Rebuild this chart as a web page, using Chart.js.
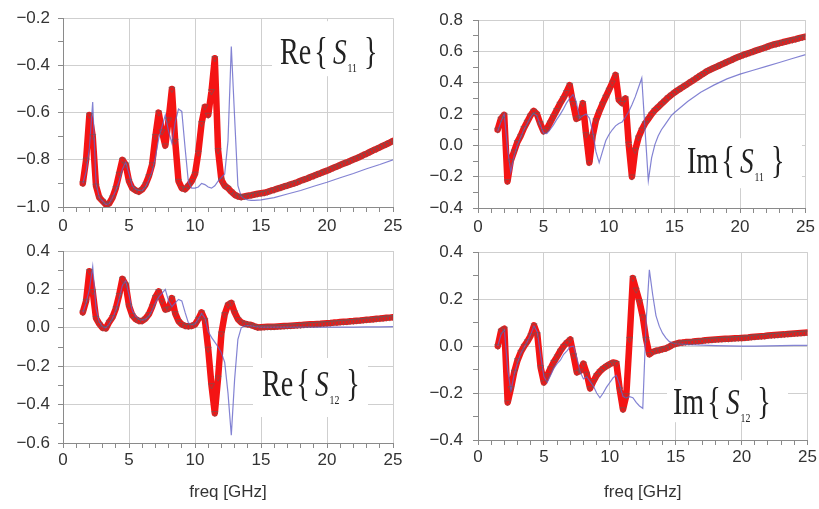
<!DOCTYPE html>
<html>
<head>
<meta charset="utf-8">
<script src="https://cdn.jsdelivr.net/npm/chart.js@4.4.0/dist/chart.umd.min.js"></script>
<style>
  body { margin: 0; background: #fff; }
  #wrap { position: relative; width: 819px; height: 509px; overflow: hidden; }
  #wrap canvas { position: absolute; }
</style>
</head>
<body>
<div id="wrap">
  <canvas id="reS11" width="410" height="232" style="left:0;top:0"></canvas>
  <canvas id="imS11" width="409" height="232" style="left:410px;top:0"></canvas>
  <canvas id="reS12" width="410" height="277" style="left:0;top:232px"></canvas>
  <canvas id="imS12" width="409" height="277" style="left:410px;top:232px"></canvas>
</div>
<script>
// frequency grid of the fitted / measured points (GHz)
const freq = [1.5,1.75,2,2.25,2.5,2.75,3,3.25,3.5,3.75,4,4.25,4.5,4.75,5,5.25,5.5,5.75,6,6.25,
  6.5,6.75,7,7.25,7.5,7.75,8,8.25,8.5,8.75,9,9.25,9.5,9.75,10,10.25,10.5,10.75,11,11.25,
  11.5,11.75,12,12.25,12.5,12.75,13,13.25,13.5,13.75,14,14.25,14.5,14.75,15,
  15.25,15.5,15.75,16,16.25,16.5,16.75,17,17.25,17.5,17.75,18,18.25,18.5,18.75,19,19.25,19.5,19.75,20,
  20.25,20.5,20.75,21,21.25,21.5,21.75,22,22.25,22.5,22.75,23,23.25,23.5,23.75,24,24.25,24.5,24.75,25];

// frequency grid of the thin simulated trace (GHz)
const simFreq = [1.5,1.75,2,2.25,2.5,2.75,3,3.25,3.5,3.75,4,4.25,4.5,4.75,5,5.25,5.5,5.75,6,6.25,
  6.5,6.75,7,7.25,7.5,7.75,8,8.25,8.5,8.75,9,9.25,9.5,9.75,10,10.25,10.5,10.75,11,11.25,
  11.5,11.75,12,12.25,12.5,12.75,13,13.25,13.5,13.75,14,14.25,14.5,14.75,15,
  16,17,18,19,20,21,22,23,24,25];

// Re{S11}
const reS11Fit = [-0.90,-0.80,-0.61,-0.70,-0.91,-0.96,-0.975,-0.99,-0.985,-0.96,
  -0.92,-0.86,-0.80,-0.82,-0.89,-0.92,-0.93,-0.935,-0.925,-0.905,
  -0.87,-0.82,-0.70,-0.60,-0.68,-0.74,-0.63,-0.50,-0.72,-0.89,
  -0.92,-0.925,-0.91,-0.89,-0.86,-0.77,-0.645,-0.575,-0.61,-0.51,
  -0.37,-0.76,-0.885,-0.91,-0.92,-0.935,-0.948,-0.955,-0.958,-0.955,
  -0.952,-0.95,-0.947,-0.944,-0.942,
  -0.940,-0.936,-0.931,-0.927,-0.922,-0.918,-0.913,-0.909,-0.904,-0.900,
  -0.895,-0.889,-0.884,-0.879,-0.873,-0.868,-0.862,-0.857,-0.851,-0.846,
  -0.840,-0.834,-0.828,-0.822,-0.816,-0.811,-0.805,-0.799,-0.793,-0.787,
  -0.780,-0.774,-0.767,-0.760,-0.754,-0.747,-0.740,-0.734,-0.727,-0.720];
const reS11Sim = [-0.90,-0.85,-0.75,-0.555,-0.90,-0.96,-0.975,-0.99,-0.985,-0.96,
  -0.93,-0.89,-0.84,-0.81,-0.86,-0.91,-0.925,-0.93,-0.93,-0.915,
  -0.885,-0.85,-0.79,-0.71,-0.66,-0.61,-0.68,-0.73,-0.64,-0.585,
  -0.595,-0.75,-0.895,-0.92,-0.92,-0.915,-0.90,-0.905,-0.915,-0.92,
  -0.91,-0.89,-0.875,-0.86,-0.72,-0.32,-0.62,-0.91,-0.955,-0.965,
  -0.97,-0.972,-0.972,-0.971,-0.970,
  -0.96,-0.945,-0.93,-0.912,-0.895,-0.876,-0.858,-0.838,-0.82,-0.80];

// Im{S11}
const imS11Fit = [0.10,0.17,0.195,-0.23,-0.10,-0.04,0.02,0.06,0.11,0.15,
  0.19,0.22,0.20,0.14,0.09,0.105,0.145,0.185,0.225,0.265,
  0.30,0.34,0.385,0.27,0.17,0.18,0.27,0.07,-0.11,0.06,
  0.16,0.215,0.265,0.31,0.355,0.40,0.45,0.29,0.27,0.30,
  0.01,-0.20,-0.03,0.05,0.10,0.14,0.17,0.20,0.225,0.245,
  0.265,0.285,0.305,0.322,0.338,
  0.353,0.366,0.380,0.393,0.407,0.420,0.434,0.448,0.461,0.475,
  0.485,0.495,0.504,0.514,0.523,0.533,0.542,0.552,0.561,0.570,
  0.578,0.585,0.592,0.599,0.607,0.614,0.621,0.628,0.636,0.643,
  0.648,0.653,0.659,0.664,0.669,0.674,0.679,0.685,0.690,0.695];
const imS11Sim = [0.09,0.15,0.20,-0.02,-0.17,-0.07,0.0,0.05,0.10,0.14,
  0.18,0.205,0.19,0.13,0.08,0.075,0.10,0.13,0.165,0.195,
  0.23,0.27,0.30,0.325,0.28,0.175,0.19,0.20,0.175,0.09,
  -0.04,-0.11,-0.04,0.03,0.07,0.10,0.125,0.14,0.15,0.18,
  0.215,0.26,0.31,0.37,0.43,0.10,-0.225,-0.08,0.005,0.06,
  0.10,0.13,0.16,0.19,0.21,
  0.28,0.34,0.385,0.425,0.455,0.48,0.505,0.53,0.555,0.58];

// Re{S12}
const reS12Fit = [0.08,0.14,0.295,0.19,0.05,0.02,0.0,-0.003,0.03,0.055,
  0.10,0.17,0.255,0.225,0.115,0.065,0.045,0.036,0.036,0.048,
  0.07,0.11,0.16,0.19,0.14,0.095,0.10,0.155,0.075,0.035,
  0.018,0.010,0.008,0.010,0.017,0.045,0.08,0.04,-0.11,-0.30,
  -0.445,-0.26,-0.03,0.07,0.12,0.13,0.08,0.045,0.028,0.022,
  0.018,0.015,0.008,0.002,0.003,
  0.004,0.005,0.005,0.006,0.007,0.008,0.009,0.010,0.011,0.012,
  0.013,0.014,0.016,0.017,0.018,0.019,0.020,0.021,0.023,0.024,
  0.025,0.027,0.028,0.030,0.031,0.032,0.034,0.035,0.037,0.038,
  0.040,0.042,0.043,0.045,0.047,0.048,0.050,0.052,0.053,0.055];
const reS12Sim = [0.08,0.13,0.20,0.32,0.10,0.03,0.005,0.0,0.02,0.05,
  0.09,0.15,0.22,0.245,0.17,0.09,0.06,0.045,0.04,0.045,
  0.06,0.09,0.13,0.16,0.18,0.20,0.14,0.11,0.13,0.148,
  0.14,0.08,0.026,0.015,0.02,0.045,0.075,0.05,-0.02,-0.05,
  -0.075,-0.10,-0.13,-0.18,-0.34,-0.56,-0.27,-0.06,0.0,0.01,
  0.012,0.01,0.007,0.005,0.004,
  0.003,0.003,0.003,0.003,0.003,0.004,0.004,0.005,0.005,0.006];

// Im{S12}
const imS12Fit = [0.0,0.065,0.074,-0.24,-0.18,-0.11,-0.06,-0.025,0.0,0.02,
  0.045,0.088,0.05,-0.09,-0.155,-0.125,-0.095,-0.068,-0.045,-0.02,
  0.0,0.015,0.028,-0.04,-0.112,-0.105,-0.075,-0.118,-0.18,-0.15,
  -0.125,-0.108,-0.095,-0.085,-0.077,-0.07,-0.073,-0.185,-0.27,-0.21,
  0.03,0.29,0.24,0.19,0.125,0.03,-0.035,-0.025,-0.02,-0.017,
  -0.013,-0.01,-0.003,0.005,0.010,
  0.014,0.015,0.017,0.018,0.019,0.021,0.022,0.023,0.025,0.026,
  0.027,0.028,0.029,0.030,0.031,0.031,0.032,0.033,0.034,0.035,
  0.036,0.037,0.039,0.040,0.041,0.042,0.043,0.045,0.046,0.047,
  0.048,0.049,0.050,0.052,0.053,0.054,0.055,0.056,0.057,0.058];
const imS12Sim = [0.0,0.05,0.07,-0.10,-0.19,-0.12,-0.07,-0.03,-0.005,0.02,
  0.05,0.085,0.06,-0.04,-0.13,-0.155,-0.125,-0.095,-0.075,-0.06,
  -0.035,-0.02,-0.003,0.0,-0.05,-0.11,-0.14,-0.13,-0.15,-0.17,
  -0.20,-0.22,-0.20,-0.175,-0.155,-0.135,-0.125,-0.165,-0.215,-0.22,
  -0.215,-0.22,-0.24,-0.255,-0.265,0.10,0.325,0.22,0.13,0.085,
  0.055,0.035,0.02,0.013,0.01,
  0.006,0.004,0.002,0.001,0.0,0.0,0.001,0.002,0.003,0.003];

const SANS = '"Liberation Sans", Arial, sans-serif';
const SERIF = '"Liberation Serif", "Times New Roman", serif';

function pts(xs, ys) {
  return xs.map((x, i) => ({ x: x, y: ys[i] }));
}

// draws  Re{ S_11 }  style labels on a white patch
const sLabel = {
  id: 'sLabel',
  beforeDatasetsDraw(chart, args, o) {
    if (!o || !o.part) return;
    const ctx = chart.ctx, a = chart.chartArea;
    ctx.save();
    ctx.fillStyle = '#fff';
    ctx.fillRect(a.left + o.box[0], a.top + o.box[1], o.box[2] - o.box[0], o.box[3] - o.box[1]);
    ctx.translate(a.left + o.x, a.top + o.y);
    ctx.scale(0.76, 1);
    ctx.fillStyle = '#222';
    ctx.textBaseline = 'alphabetic';
    const pieces = [
      { t: o.part, f: '37px ' + SERIF, gap: 0 },
      { t: '{', f: '37px ' + SERIF, gap: 4 },
      { t: 'S', f: 'italic 36px ' + SERIF, gap: 7 },
      { t: o.sub, f: '13px ' + SERIF, gap: 1, dy: 8 },
      { t: '}', f: '37px ' + SERIF, gap: 9 }
    ];
    let cx = 0;
    for (const p of pieces) {
      ctx.font = p.f;
      cx += p.gap;
      ctx.fillText(p.t, cx, p.dy || 0);
      cx += ctx.measureText(p.t).width;
    }
    ctx.restore();
  }
};

function makeChart(id, fit, sim, yMin, yMax, lay) {
  const datasets = [
    { // measured points
      data: pts(freq, fit), showLine: false,
      pointStyle: 'triangle', rotation: 180, pointRadius: 3.5,
      pointBorderColor: 'rgba(95,95,95,0.7)', pointBackgroundColor: 'rgba(0,0,0,0)', pointBorderWidth: 0.8
    },
    { // simulation
      data: pts(simFreq, sim), showLine: true, borderColor: 'rgba(100,100,200,0.8)',
      borderWidth: 1.2, pointRadius: 0, tension: 0
    },
    { // fitted model
      data: pts(freq, fit), showLine: true, borderColor: '#f41414',
      borderWidth: 6.5, pointRadius: 0, tension: 0, borderJoinStyle: 'round', borderCapStyle: 'round'
    }
  ];
  return new Chart(document.getElementById(id), {
    type: 'scatter',
    data: { datasets: datasets },
    plugins: [sLabel],
    options: {
      responsive: false, animation: false, events: [],
      layout: { padding: { left: 0, right: lay.right, top: lay.top, bottom: 0 } },
      plugins: { legend: { display: false }, tooltip: { enabled: false }, sLabel: lay.label },
      scales: {
        x: {
          type: 'linear', min: 0, max: 25,
          afterFit: s => { s.height = lay.xh; },
          border: { color: '#8a8a8a', width: 1 },
          grid: {
            color: c => (c.tick && c.tick.value % 5 === 0) ? '#cfcfcf' : 'rgba(0,0,0,0)',
            tickColor: '#8a8a8a', tickLength: 5, lineWidth: 1
          },
          ticks: {
            stepSize: 1, autoSkip: false, maxRotation: 0, padding: lay.xpad,
            color: '#333', font: { family: SANS, size: 17 },
            callback: v => (v % 5 === 0 ? String(v) : '')
          },
          title: {
            display: !!lay.title, text: 'freq [GHz]', color: '#333',
            font: { family: SANS, size: 17 }, padding: { top: 0, bottom: 6 }
          }
        },
        y: {
          min: yMin, max: yMax,
          afterFit: s => { s.width = lay.yw; },
          border: { color: '#8a8a8a', width: 1 },
          grid: {
            color: c => (c.tick && Math.round(c.tick.value * 10) % 2 === 0) ? '#cfcfcf' : 'rgba(0,0,0,0)',
            tickColor: '#8a8a8a', tickLength: 5, lineWidth: 1
          },
          ticks: {
            stepSize: 0.1, autoSkip: false, padding: lay.ypad,
            color: '#333', font: { family: SANS, size: 17 },
            callback: v => {
              const k = Math.round(v * 10);
              if (k % 2 !== 0) return '';
              return (k / 10).toFixed(1).replace('-', '\u2212');
            }
          }
        }
      }
    }
  });
}

makeChart('reS11', reS11Fit, reS11Sim, -1.0, -0.2, {
  right: 17, top: 17, xh: 25, yw: 63, xpad: 4, ypad: 8,
  label: { part: 'Re', sub: '11', x: 217, y: 46, box: [209, 3, 330, 58] }
});
makeChart('imS11', imS11Fit, imS11Sim, -0.4, 0.8, {
  right: 11, top: 17, xh: 24, yw: 68, xpad: 4, ypad: 10,
  label: { part: 'Im', sub: '11', x: 209, y: 153, box: [202, 118, 324, 168] }
});
makeChart('reS12', reS12Fit, reS12Sim, -0.6, 0.4, {
  right: 17, top: 19, xh: 66, yw: 63, xpad: 2, ypad: 8, title: true,
  label: { part: 'Re', sub: '12', x: 199, y: 145, box: [190, 107, 305, 166] }
});
makeChart('imS12', imS12Fit, imS12Sim, -0.4, 0.4, {
  right: 11, top: 17, xh: 69, yw: 68, xpad: 2, ypad: 10, title: true,
  label: { part: 'Im', sub: '12', x: 195, y: 162, box: [189, 128, 310, 170] }
});
</script>
</body>
</html>
